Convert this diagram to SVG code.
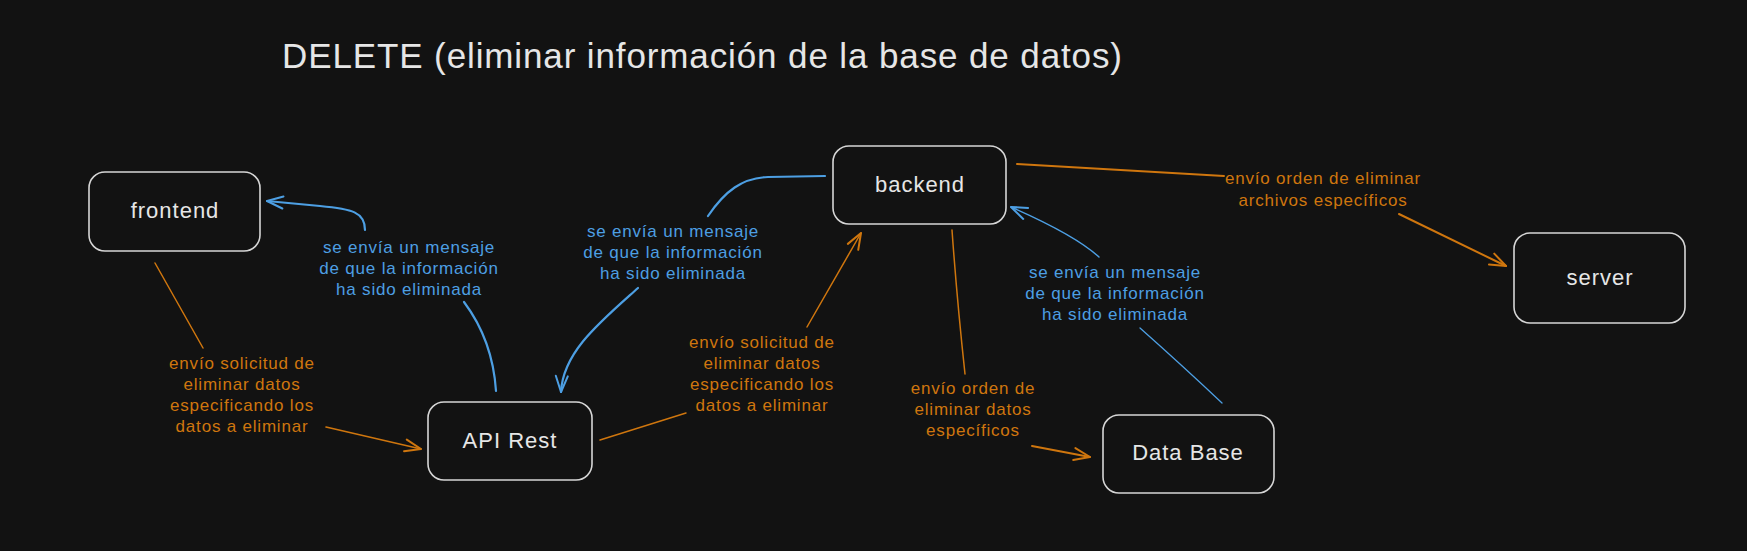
<svg xmlns="http://www.w3.org/2000/svg" width="1747" height="551" viewBox="0 0 1747 551">
<style>
.bg{fill:#121212}
.box{fill:#121212;stroke:#d6d6d6;stroke-width:1.6}
.nt{font-family:"Liberation Sans",Arial,sans-serif;font-size:22px;fill:#e6e6e6;text-anchor:middle;letter-spacing:1px}
.title{font-family:"Liberation Sans",Arial,sans-serif;font-size:35px;fill:#e6e6e6}
.lbl{font-family:"Liberation Sans",Arial,sans-serif;font-size:17px;text-anchor:middle;letter-spacing:0.8px}
.ob{fill:#cf760e}
.bb{fill:#4d9fe3}
.co{fill:none;stroke:#cf760e;stroke-linecap:round}
.cb{fill:none;stroke:#4d9fe3;stroke-linecap:round}
</style>
<defs>
<marker id="ao" markerUnits="userSpaceOnUse" markerWidth="24" markerHeight="24" viewBox="-20 -12 24 24" refX="0" refY="0" orient="auto">
<path d="M-16,-6 L0,0 L-16,6" fill="none" stroke="#cf760e" stroke-width="2" stroke-linecap="round" stroke-linejoin="round"/>
</marker>
<marker id="ab" markerUnits="userSpaceOnUse" markerWidth="24" markerHeight="24" viewBox="-20 -12 24 24" refX="0" refY="0" orient="auto">
<path d="M-16,-6 L0,0 L-16,6" fill="none" stroke="#4d9fe3" stroke-width="2" stroke-linecap="round" stroke-linejoin="round"/>
</marker>
</defs>
<rect class="bg" x="0" y="0" width="1747" height="551"/>
<text class="title" x="282" y="68" textLength="840">DELETE (eliminar información de la base de datos)</text>

<g id="connectors">
<g id="c-api-frontend">
<path class="cb" stroke-width="2.2" d="M496,391 C494,360 485,330 464,302"/>
<path class="cb" stroke-width="2.2" d="M365,230 C365,212 352,209 320,206 L267,201" marker-end="url(#ab)"/>
</g>
<g id="c-backend-api">
<path class="cb" stroke-width="2.2" d="M825,176 L768,177 C742,178 725,191 708,216"/>
<path class="cb" stroke-width="2.2" d="M638,288 C600,322 563,352 561,392" marker-end="url(#ab)"/>
</g>
<g id="c-frontend-api">
<path class="co" stroke-width="1.5" d="M155,263 L203,348"/>
<path class="co" stroke-width="1.6" d="M326,427 L421,449" marker-end="url(#ao)"/>
</g>
<g id="c-api-backend">
<path class="co" stroke-width="1.5" d="M600,440 L686,413"/>
<path class="co" stroke-width="1.5" d="M807,327 L861,233" marker-end="url(#ao)"/>
</g>
<g id="c-backend-db">
<path class="co" stroke-width="1.5" d="M952,230 Q957,300 965,374"/>
<path class="co" stroke-width="2" d="M1032,446 L1090,457" marker-end="url(#ao)"/>
</g>
<g id="c-db-backend">
<path class="cb" stroke-width="1.3" d="M1222,403 Q1185,368 1140,328"/>
<path class="cb" stroke-width="1.5" d="M1099,257 Q1075,235 1011,207" marker-end="url(#ab)"/>
</g>
<g id="c-backend-server">
<path class="co" stroke-width="2" d="M1017,164 L1224,176"/>
<path class="co" stroke-width="2" d="M1399,214 L1506,266" marker-end="url(#ao)"/>
</g>
</g>

<g id="labels">
<text class="lbl bb"><tspan x="409" y="253">se envía un mensaje</tspan><tspan x="409" y="274">de que la información</tspan><tspan x="409" y="295">ha sido eliminada</tspan></text>
<text class="lbl bb"><tspan x="673" y="237">se envía un mensaje</tspan><tspan x="673" y="258">de que la información</tspan><tspan x="673" y="279">ha sido eliminada</tspan></text>
<text class="lbl bb"><tspan x="1115" y="278">se envía un mensaje</tspan><tspan x="1115" y="299">de que la información</tspan><tspan x="1115" y="320">ha sido eliminada</tspan></text>
<text class="lbl ob"><tspan x="242" y="369">envío solicitud de</tspan><tspan x="242" y="390">eliminar datos</tspan><tspan x="242" y="411">especificando los</tspan><tspan x="242" y="432">datos a eliminar</tspan></text>
<text class="lbl ob"><tspan x="762" y="348">envío solicitud de</tspan><tspan x="762" y="369">eliminar datos</tspan><tspan x="762" y="390">especificando los</tspan><tspan x="762" y="411">datos a eliminar</tspan></text>
<text class="lbl ob"><tspan x="973" y="394">envío orden de</tspan><tspan x="973" y="415">eliminar datos</tspan><tspan x="973" y="436">específicos</tspan></text>
<text class="lbl ob"><tspan x="1323" y="184">envío orden de eliminar</tspan><tspan x="1323" y="206">archivos específicos</tspan></text>
</g>

<g id="frontend">
<rect class="box" x="89" y="172" width="171" height="79" rx="16"/>
<text class="nt" x="175" y="218">frontend</text>
</g>
<g id="api-rest">
<rect class="box" x="428" y="402" width="164" height="78" rx="16"/>
<text class="nt" x="510" y="448">API Rest</text>
</g>
<g id="backend">
<rect class="box" x="833" y="146" width="173" height="78" rx="16"/>
<text class="nt" x="920" y="192">backend</text>
</g>
<g id="data-base">
<rect class="box" x="1103" y="415" width="171" height="78" rx="16"/>
<text class="nt" x="1188" y="460">Data Base</text>
</g>
<g id="server">
<rect class="box" x="1514" y="233" width="171" height="90" rx="16"/>
<text class="nt" x="1600" y="285">server</text>
</g>
</svg>
